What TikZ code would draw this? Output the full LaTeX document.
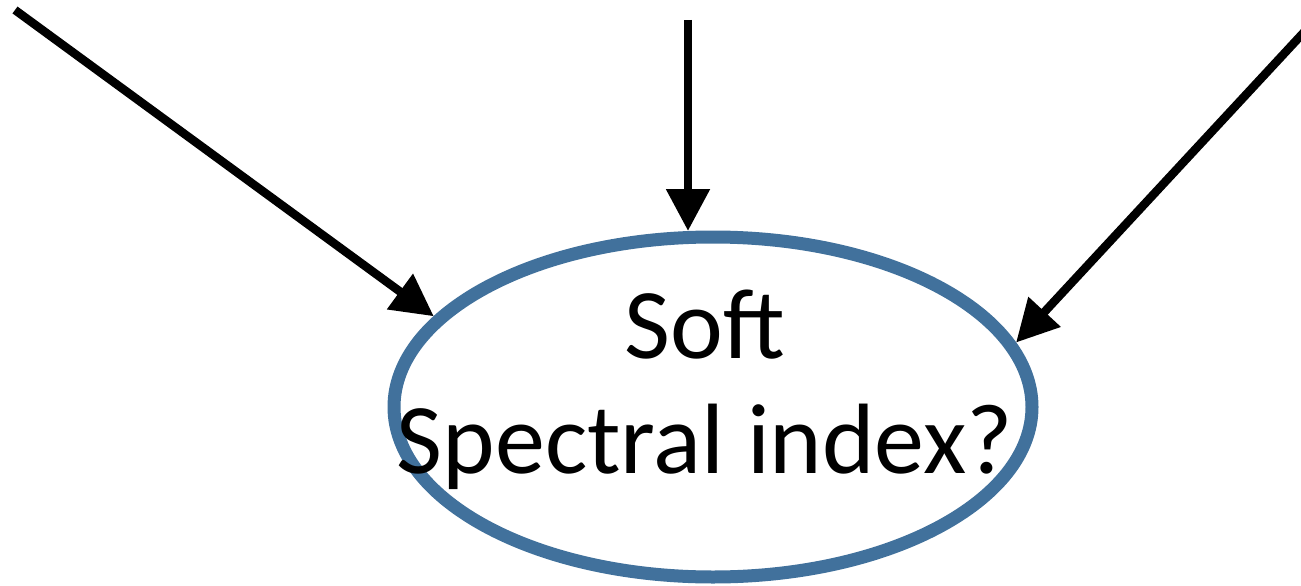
\documentclass[tikz,border=0pt]{standalone}
\usepackage{fontspec}
\setmainfont{Carlito}
\usetikzlibrary{arrows.meta,shapes.geometric}
\definecolor{ringblue}{RGB}{65,113,156}
\tikzset{
  ring/.style={ellipse, draw=ringblue, line width=13pt, fill=white,
    minimum width=638pt, minimum height=340pt, inner sep=0pt},
  feed/.style={line width=8.5pt, draw=black,
    -{Triangle[length=42pt,width=42pt]}},
  caption/.style={font=\fontsize{100}{115}\selectfont, align=center, inner sep=0pt}
}
\begin{document}
\begin{tikzpicture}[x=1pt,y=-1pt]
  \useasboundingbox (0,0) rectangle (1301,586);
  % central question
  \node[ring] (e) at (713,407) {};
  \node[caption] (t) at (705,390) {Soft\\Spectral index?};
  % incoming influences
  \coordinate (srcL) at (15,10);
  \coordinate (srcM) at (688,20);
  \coordinate (srcR) at (1306,30);
  \draw[feed] (srcL) -- (e.162);
  \draw[feed] (srcM) -- (688,231);
  \draw[feed] (srcR) -- (e.12);
\end{tikzpicture}
\end{document}
